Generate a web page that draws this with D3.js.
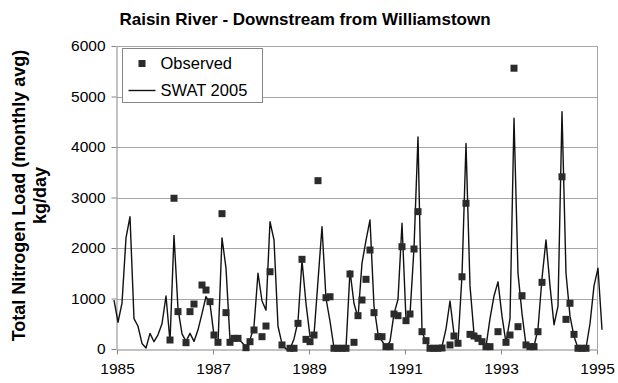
<!DOCTYPE html>
<html>
<head>
<meta charset="utf-8">
<script src="https://cdn.jsdelivr.net/npm/d3@7"></script>
<style>
  html, body { margin: 0; padding: 0; background: #fff; }
  svg { display: block; font-family: Arial, "Liberation Sans", sans-serif; }
</style>
</head>
<body>
<svg id="chart" width="618" height="383"></svg>
<script>
// monthly series, first value sits just before Jan 1985
const firstMonth = 1984.9375;

// SWAT 2005 simulated load (kg/day), one value per month
const swat = [
  970, 530, 910, 2200, 2620, 600, 450, 110, 20, 310, 145, 280, 500, 1050, 150, 2250,
  800, 300, 150, 310, 150, 380, 700, 1040, 900, 270, 110, 2200, 1600, 180, 240, 210,
  130, 40, 180, 450, 1500, 950, 770, 2520, 2160, 450, 100, 0, 0, 200, 550, 1750,
  900, 250, 280, 1350, 2420, 1000, 550, 20, 0, 0, 20, 1550, 900, 620, 1700, 2150,
  2555, 850, 300, 160, 30, 150, 700, 980, 2490, 580, 680, 2000, 4200, 340, 140, 20,
  10, 10, 50, 400, 950, 300, 120, 1450, 4070, 1250, 300, 230, 150, 50, 600, 1050,
  1330, 650, 120, 600, 4570, 1500, 700, 80, 30, 50, 400, 1400, 2160, 1250, 480, 850,
  4700, 1500, 650, 250, 20, 10, 20, 500, 1250, 1600, 380
];

// observed samples: month index (same grid as swat) and load
const obsMonth = [
  14, 15, 16, 18, 19, 20, 22, 23, 24, 25, 26, 27, 28, 29, 30, 31,
  33, 34, 35, 37, 38, 39, 42, 44, 45, 46, 47, 48, 49, 50, 51, 53,
  54, 55, 56, 57, 58, 59, 60, 61, 62, 63, 64, 65, 66, 67, 68, 69,
  70, 71, 72, 73, 74, 75, 76, 77, 78, 79, 80, 81, 82, 84, 85, 86,
  87, 88, 89, 90, 91, 92, 93, 94, 96, 98, 99, 100, 101, 102, 103, 104,
  105, 106, 107, 112, 113, 114, 115, 116, 117, 118
];
const obsValue = [
  178, 2985, 740, 125, 740, 890, 1267, 1168, 937, 277, 132, 2680, 720, 132, 211, 211,
  26, 145, 376, 244, 455, 1530, 80, 14, 14, 508, 1776, 191, 145, 277, 3333, 1016,
  1035, 14, 14, 14, 14, 1485, 132, 660, 970, 1380, 1960, 720, 244, 244, 46, 46,
  693, 660, 2025, 561, 693, 1980, 2720, 343, 165, 14, 14, 14, 20, 80, 257, 113,
  1430, 2885, 290, 257, 211, 145, 46, 46, 343, 132, 277, 5560, 442, 1056, 80, 46,
  46, 343, 1320, 3410, 587, 905, 290, 14, 14, 14
];

const yearTicks = [1985, 1987, 1989, 1991, 1993, 1995];
const loadTicks = [0, 1000, 2000, 3000, 4000, 5000, 6000];

const title = 'Raisin River - Downstream from Williamstown';
const yTitle = ['Total Nitrogen Load (monthly avg)', 'kg/day'];
const seriesNames = ['Observed', 'SWAT 2005'];

const monthYear = i => firstMonth + i / 12;

const svg = d3.select('#chart');
const plot = { left: 117, right: 597, top: 46, bottom: 349 };

const x = d3.scaleLinear().domain([1985, 1995]).range([plot.left, plot.right]);
const y = d3.scaleLinear().domain([0, 6000]).range([plot.bottom, plot.top]);

// gridlines
svg.append('g')
  .selectAll('line')
  .data(loadTicks.filter(v => v > 0))
  .join('line')
  .attr('x1', plot.left).attr('x2', plot.right)
  .attr('y1', d => Math.round(y(d)) + 0.5).attr('y2', d => Math.round(y(d)) + 0.5)
  .attr('stroke', '#a6a6a6').attr('stroke-width', 1);

// right border of plot area
svg.append('line')
  .attr('x1', plot.right + 0.5).attr('x2', plot.right + 0.5)
  .attr('y1', plot.top).attr('y2', plot.bottom)
  .attr('stroke', '#a6a6a6');

// axes
const xAxis = d3.axisBottom(x).tickValues(yearTicks).tickFormat(d3.format('d'))
  .tickSizeInner(5).tickSizeOuter(0).tickPadding(6);
const yAxis = d3.axisLeft(y).tickValues(loadTicks).tickFormat(d3.format('d'))
  .tickSizeInner(5).tickSizeOuter(0).tickPadding(6);

const gx = svg.append('g')
  .attr('transform', `translate(0,${plot.bottom + 0.5})`)
  .call(xAxis);
const gy = svg.append('g')
  .attr('transform', `translate(${plot.left - 0.5},0)`)
  .call(yAxis);

[gx, gy].forEach(g => {
  g.selectAll('path, line').attr('stroke', '#868686');
  g.selectAll('text').attr('fill', '#000').style('font-size', '15.5px');
});
gx.selectAll('text').attr('dy', '0.9em');

// model line
const line = d3.line()
  .x((d, i) => x(monthYear(i)))
  .y(d => y(d));

svg.append('path')
  .datum(swat)
  .attr('d', line)
  .attr('fill', 'none')
  .attr('stroke', '#111')
  .attr('stroke-width', 1.4)
  .attr('stroke-linejoin', 'round');

// observed markers
const ms = 7;
svg.append('g')
  .selectAll('rect')
  .data(obsMonth.map((m, k) => ({ m, v: obsValue[k] })))
  .join('rect')
  .attr('x', d => x(monthYear(d.m)) - ms / 2)
  .attr('y', d => y(d.v) - ms / 2)
  .attr('width', ms).attr('height', ms)
  .attr('fill', '#2b2b2b');

// title
svg.append('text')
  .attr('x', 305).attr('y', 25)
  .attr('text-anchor', 'middle')
  .style('font-size', '17px').style('font-weight', 'bold')
  .text(title);

// y title (two lines)
const yt = svg.append('text')
  .attr('transform', `translate(25,${(plot.top + plot.bottom) / 2 - 2}) rotate(-90)`)
  .attr('text-anchor', 'middle')
  .style('font-size', '18px').style('font-weight', 'bold');
yt.selectAll('tspan')
  .data(yTitle)
  .join('tspan')
  .attr('x', 0)
  .attr('dy', (d, i) => i === 0 ? 0 : '1.15em')
  .text(d => d);

// legend
const lg = svg.append('g').attr('transform', 'translate(122.5,48.5)');
lg.append('rect')
  .attr('width', 140).attr('height', 54)
  .attr('fill', '#fff').attr('stroke', '#868686');
lg.append('rect')
  .attr('x', 19 - ms / 2 + 0.5).attr('y', 15 - ms / 2)
  .attr('width', ms).attr('height', ms)
  .attr('fill', '#2b2b2b');
lg.append('line')
  .attr('x1', 6).attr('x2', 33).attr('y1', 42).attr('y2', 42)
  .attr('stroke', '#111').attr('stroke-width', 1.4);
lg.selectAll('text.lab')
  .data(seriesNames)
  .join('text')
  .attr('class', 'lab')
  .attr('x', 38)
  .attr('y', (d, i) => 15 + i * 27)
  .attr('dy', '0.35em')
  .style('font-size', '16.5px')
  .text(d => d);
</script>
</body>
</html>
